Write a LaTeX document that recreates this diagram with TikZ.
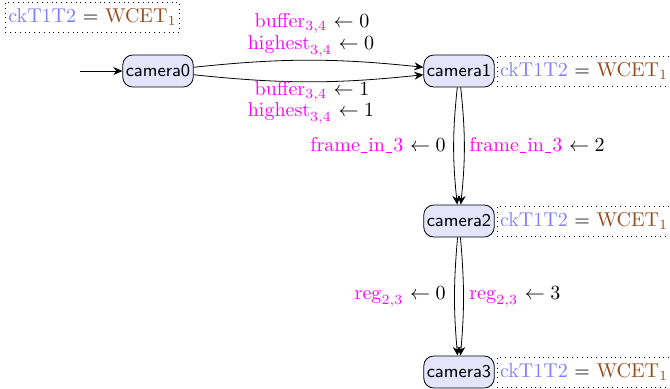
\documentclass[tikz,border=0pt]{standalone}
\usetikzlibrary{arrows.meta}
\definecolor{varcol}{RGB}{255,0,255}
\definecolor{clkcol}{RGB}{125,125,255}
\definecolor{wcetcol}{RGB}{150,75,30}
\definecolor{locfill}{RGB}{228,228,252}
\newcommand{\clk}{{\color{clkcol}$\mathrm{ckT1T2}$} $=$ {\color{wcetcol}$\mathrm{WCET}_1$}}
\newcommand{\us}{\leavevmode\kern.06em\vrule width .3em height -0.5pt depth 0.9pt\kern.06em}
\begin{document}
\begin{tikzpicture}[x=0.5pt,y=0.5pt,
  loc/.style={draw, rounded corners=5pt, fill=locfill, font=\small\sffamily,
    minimum width=35pt, minimum height=16pt, inner sep=1.5pt},
  inv/.style={draw, dotted, inner sep=1.5pt, minimum height=15pt, anchor=west},
  lbl/.style={inner sep=0.5pt, font=\normalsize},
  edge/.style={-{Stealth[length=4.5pt,width=4pt]}, thin}]
\useasboundingbox (0,0) rectangle (670,-388);
\node[loc] (c0) at (158,-71) {camera0};
\node[loc] (c1) at (459,-71) {camera1};
\node[loc] (c2) at (459,-221) {camera2};
\node[loc] (c3) at (459,-372) {camera3};
\node[inv] (i0) at (5,-17) {\clk};
\node[inv] (i1) at ([xshift=1pt]c1.east) {\clk};
\node[inv] (i2) at ([xshift=1pt]c2.east) {\clk};
\node[inv] (i3) at ([xshift=1pt]c3.east) {\clk};
\coordinate (start) at (80,-71);
\draw[edge] (start) -- (c0);
\draw[edge] (c0) to[bend left=6] (c1);
\draw[edge] (c0) to[bend right=6] (c1);
\draw[edge] (c1) to[bend right=6] (c2);
\draw[edge] (c1) to[bend left=6] (c2);
\draw[edge] (c2) to[bend right=5] (c3);
\draw[edge] (c2) to[bend left=5] (c3);
\node[lbl] (l1) at (312,-23) {{\color{varcol}$\mathrm{buffer}_{3,4}$} $\gets 0$};
\node[lbl] (l2) at (311,-46) {{\color{varcol}$\mathrm{highest}_{3,4}$} $\gets 0$};
\node[lbl] (l3) at (312,-91) {{\color{varcol}$\mathrm{buffer}_{3,4}$} $\gets 1$};
\node[lbl] (l4) at (311,-113) {{\color{varcol}$\mathrm{highest}_{3,4}$} $\gets 1$};
\node[lbl, anchor=east] (l5) at (447,-145) {{\color{varcol}frame\us in\us 3} $\gets 0$};
\node[lbl, anchor=west] (l6) at (468,-145) {{\color{varcol}frame\us in\us 3} $\gets 2$};
\node[lbl, anchor=east] (l7) at (447,-297) {{\color{varcol}$\mathrm{reg}_{2,3}$} $\gets 0$};
\node[lbl, anchor=west] (l8) at (468,-297) {{\color{varcol}$\mathrm{reg}_{2,3}$} $\gets 3$};
\end{tikzpicture}
\end{document}
